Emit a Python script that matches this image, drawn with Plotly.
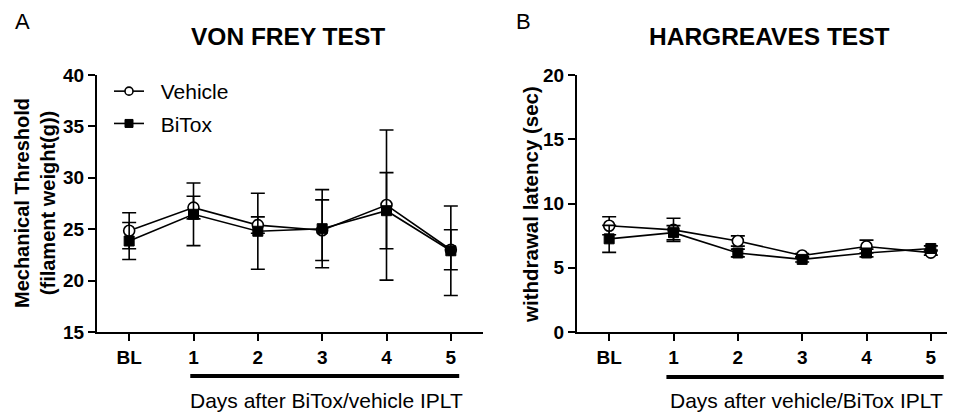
import plotly.graph_objects as go

W, H = 955, 412
OFF = 8  # page body margin offset of the rendered html

# ---------------- data ----------------
days = [0, 1, 2, 3, 4, 5]
day_labels = ["BL", "1", "2", "3", "4", "5"]

vf_vehicle = [24.85, 27.1, 25.4, 24.9, 27.35, 23.0]
vf_vehicle_err = [1.75, 1.1, 0.8, 2.95, 7.3, 1.95]
vf_bitox = [23.85, 26.45, 24.8, 25.05, 26.8, 22.9]
vf_bitox_err = [1.8, 3.05, 3.7, 3.8, 3.7, 4.35]

hg_vehicle = [8.27, 7.95, 7.08, 5.95, 6.65, 6.18]
hg_vehicle_err = [0.7, 0.9, 0.4, 0.15, 0.5, 0.2]
hg_bitox = [7.25, 7.73, 6.15, 5.65, 6.15, 6.5]
hg_bitox_err = [1.05, 0.55, 0.3, 0.2, 0.3, 0.2]

treatment_span = [1, 5]

FONT = "Liberation Sans, Arial, sans-serif"


def px(x):
    return (x - OFF) / W


def py(y):
    return 1 - (y - OFF) / H


fig = go.Figure()

line_style = dict(color="black", width=1.6)
err_style = dict(type="data", visible=True, color="black", thickness=1.6, width=7)
veh_marker = dict(symbol="circle", color="white", line=dict(color="black", width=1.6))
bit_marker = dict(symbol="square", color="black", line=dict(color="black", width=1))


def add_pair(veh, veh_err, bit, bit_err, xa, ya):
    fig.add_trace(go.Scatter(
        x=days, y=veh, mode="lines+markers", name="Vehicle",
        xaxis=xa, yaxis=ya, showlegend=False,
        line=line_style, marker=dict(size=11, **veh_marker),
        error_y=dict(array=veh_err, **err_style),
    ))
    fig.add_trace(go.Scatter(
        x=days, y=bit, mode="lines+markers", name="BiTox",
        xaxis=xa, yaxis=ya, showlegend=False,
        line=line_style, marker=dict(size=10, **bit_marker),
        error_y=dict(array=bit_err, **err_style),
    ))


add_pair(vf_vehicle, vf_vehicle_err, vf_bitox, vf_bitox_err, "x", "y")
add_pair(hg_vehicle, hg_vehicle_err, hg_bitox, hg_bitox_err, "x2", "y2")

# legend entries (smaller symbols, as in the reference legend)
fig.add_trace(go.Scatter(x=[None], y=[None], mode="lines+markers",
                         name="\u00a0\u00a0Vehicle", legendgroup="veh",
                         line=line_style, marker=dict(size=8, **veh_marker)))
fig.add_trace(go.Scatter(x=[None], y=[None], mode="lines+markers",
                         name="\u00a0\u00a0BiTox", legendgroup="bit",
                         line=line_style, marker=dict(size=8, **bit_marker)))

axis_common = dict(
    showline=True, linecolor="black", linewidth=2,
    ticks="outside", ticklen=7, tickwidth=2, tickcolor="black",
    showgrid=False, zeroline=False, automargin=False,
    tickfont=dict(family=FONT, size=19, color="black", weight="bold"),
)

y_dom = [py(332), py(75)]

fig.update_layout(
    width=W, height=H,
    margin=dict(l=0, r=0, t=0, b=0, autoexpand=False),
    paper_bgcolor="white", plot_bgcolor="white",
    font=dict(family=FONT, color="black"),
    xaxis=dict(domain=[px(97), px(483)], range=[-0.5, 5.5],
               tickvals=days, ticktext=day_labels, **axis_common),
    yaxis=dict(domain=y_dom, range=[15, 40], tickvals=[15, 20, 25, 30, 35, 40],
               anchor="x", **axis_common),
    xaxis2=dict(domain=[px(577), 1.0], range=[-0.5, 5.5],
                tickvals=days, ticktext=day_labels, anchor="y2", **axis_common),
    yaxis2=dict(domain=y_dom, range=[0, 20], tickvals=[0, 5, 10, 15, 20],
                anchor="x2", **axis_common),
    legend=dict(x=px(109), y=py(71), xanchor="left", yanchor="top",
                bgcolor="rgba(0,0,0,0)",
                font=dict(family=FONT, size=21, color="black"),
                itemwidth=30, tracegroupgap=2),
    showlegend=True,
)

# treatment bars under the day ticks
fig.add_shape(type="line", xref="x", yref="paper",
              x0=treatment_span[0] - 0.05, x1=treatment_span[1] + 0.13,
              y0=py(376), y1=py(376), line=dict(color="black", width=4))
fig.add_shape(type="line", xref="x2", yref="paper",
              x0=treatment_span[0] - 0.11, x1=treatment_span[1] + 0.2,
              y0=py(377), y1=py(377), line=dict(color="black", width=4))

annotations = [
    dict(text="A", x=px(22), y=py(22), font=dict(size=22)),
    dict(text="B", x=px(523), y=py(22), font=dict(size=22)),
    dict(text="<b>VON FREY TEST</b>", x=px(288), y=py(37), font=dict(size=24.5)),
    dict(text="<b>HARGREAVES TEST</b>", x=px(769), y=py(37), font=dict(size=24.5)),
    dict(text="<b>Mechanical Threshold<br>(filament weight(g))</b>", x=px(35), y=py(203),
         textangle=-90, font=dict(size=20)),
    dict(text="<b>withdrawal latency (sec)</b>", x=px(530), y=py(205),
         textangle=-90, font=dict(size=20.5)),
    dict(text="Days after BiTox/vehicle IPLT", x=px(326), y=py(400), font=dict(size=21)),
    dict(text="Days after vehicle/BiTox IPLT", x=px(806), y=py(400), font=dict(size=21)),
]
for a in annotations:
    a.setdefault("xref", "paper")
    a.setdefault("yref", "paper")
    a["showarrow"] = False
    a["xanchor"] = "center"
    a["yanchor"] = "middle"
    a["font"] = dict(family=FONT, color="black", **a["font"])
    fig.add_annotation(**a)

fig.write_html("out.html")
